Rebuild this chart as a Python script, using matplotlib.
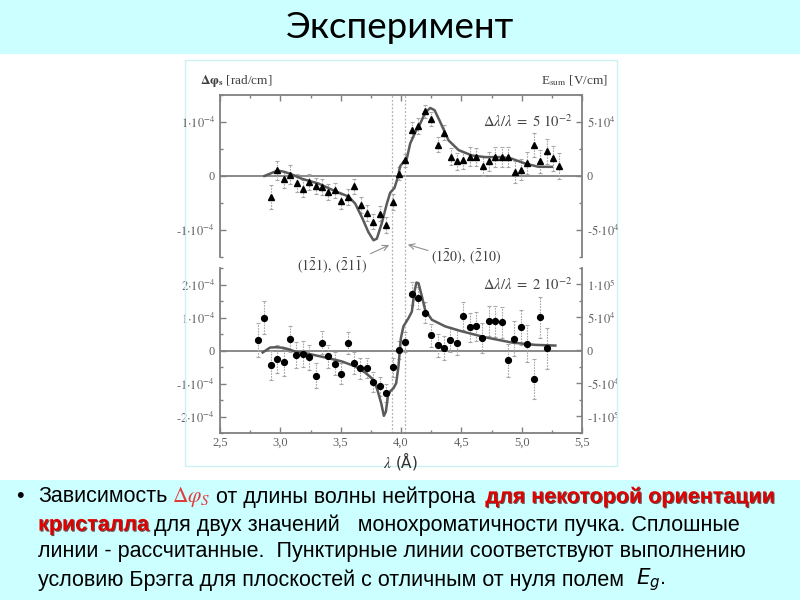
import numpy as np
import matplotlib
matplotlib.use("Agg")
import matplotlib.pyplot as plt
import matplotlib.patheffects as pe
from matplotlib.ticker import MultipleLocator, FixedLocator, FixedFormatter

plt.rcParams['mathtext.fontset'] = 'stix'

# --- data (dphi in units of 1e-4 rad/cm) ---
lam_a = [2.923, 2.976, 3.028, 3.083, 3.136, 3.188, 3.241, 3.294, 3.346, 3.399,
         3.454, 3.506, 3.559, 3.614, 3.667, 3.719, 3.772, 3.824, 3.877, 3.932,
         3.985, 4.037, 4.093, 4.145, 4.198, 4.250, 4.303, 4.355, 4.411, 4.463,
         4.516, 4.568, 4.621, 4.676, 4.728, 4.781, 4.834, 4.886, 4.941, 4.994,
         5.047, 5.099, 5.154, 5.207, 5.259, 5.312]
dphi_a = [-0.39, 0.105, -0.06, 0.025, -0.13, -0.235, -0.11, -0.19, -0.20, -0.30,
          -0.265, -0.47, -0.39, -0.19, -0.53, -0.685, -0.85, -0.70, -0.90, -0.48,
          0.04, 0.29, 0.86, 0.92, 1.20, 1.06, 0.58, 0.80, 0.36, 0.27,
          0.29, 0.36, 0.35, 0.18, 0.27, 0.35, 0.35, 0.35, 0.07, 0.12,
          0.24, 0.57, 0.27, 0.46, 0.33, 0.18]
err_a = [0.22, 0.18, 0.16, 0.18, 0.16, 0.16, 0.15, 0.15, 0.15, 0.15,
         0.14, 0.14, 0.15, 0.14, 0.15, 0.14, 0.14, 0.14, 0.15, 0.15,
         0.12, 0.12, 0.14, 0.15, 0.12, 0.13, 0.14, 0.14, 0.15, 0.16,
         0.16, 0.17, 0.17, 0.18, 0.18, 0.19, 0.19, 0.19, 0.20, 0.20,
         0.21, 0.22, 0.22, 0.23, 0.23, 0.24]
curve_a_x = [2.868, 2.976, 3.028, 3.083, 3.177, 3.316, 3.454, 3.565, 3.62, 3.675,
             3.73, 3.772, 3.80, 3.84, 3.883, 3.91, 3.946, 3.974, 3.993, 4.02,
             4.048, 4.076, 4.118, 4.159, 4.20, 4.242, 4.278, 4.325, 4.394, 4.477,
             4.588, 4.698, 4.836, 4.919, 5.03, 5.14, 5.25]
curve_a_y = [0.0, 0.10, 0.08, 0.04, -0.05, -0.14, -0.28, -0.38, -0.51, -0.76,
             -1.04, -1.19, -1.16, -0.88, -0.51, -0.31, -0.22, -0.02, 0.18, 0.26,
             0.32, 0.60, 0.81, 0.97, 1.17, 1.26, 1.22, 1.00, 0.66, 0.48,
             0.38, 0.35, 0.35, 0.32, 0.23, 0.17, 0.17]

lam_b = [2.812, 2.868, 2.920, 2.973, 3.028, 3.081, 3.133, 3.186, 3.238, 3.294,
         3.346, 3.399, 3.451, 3.506, 3.559, 3.611, 3.664, 3.717, 3.769, 3.824,
         3.877, 3.930, 3.982, 4.035, 4.090, 4.142, 4.195, 4.248, 4.303, 4.355,
         4.408, 4.461, 4.513, 4.568, 4.621, 4.673, 4.726, 4.781, 4.834, 4.886,
         4.939, 4.991, 5.047, 5.099, 5.152, 5.207]
dphi_b = [0.32, 1.00, -0.45, -0.25, -0.36, 0.34, -0.14, -0.10, -0.21, -0.76,
          0.24, -0.18, -0.40, -0.70, 0.22, -0.38, -0.54, -0.54, -0.95, -1.09,
          -1.29, -0.51, 0.02, 0.26, 1.72, 1.58, 1.15, 0.46, 0.16, 0.08,
          0.32, 0.23, 1.05, 0.70, 0.73, 0.38, 0.90, 0.88, 0.85, -0.30,
          0.36, 0.70, 0.20, -0.87, 1.01, 0.07]
err_b = [0.52, 0.50, 0.45, 0.43, 0.42, 0.40, 0.40, 0.40, 0.38, 0.38,
         0.36, 0.35, 0.35, 0.33, 0.33, 0.33, 0.32, 0.30, 0.30, 0.30,
         0.28, 0.28, 0.28, 0.30, 0.35, 0.33, 0.33, 0.35, 0.35, 0.36,
         0.38, 0.38, 0.42, 0.43, 0.43, 0.45, 0.46, 0.47, 0.48, 0.50,
         0.52, 0.54, 0.56, 0.60, 0.62, 0.62]
curve_b_x = [2.854, 2.915, 2.97, 3.025, 3.067, 3.122, 3.233, 3.371, 3.509, 3.62,
             3.703, 3.758, 3.80, 3.836, 3.858, 3.875, 3.891, 3.91, 3.938, 3.96,
             3.979, 3.999, 4.02, 4.062, 4.09, 4.112, 4.128, 4.145, 4.173, 4.20,
             4.256, 4.367, 4.505, 4.698, 4.92, 5.114, 5.279]
curve_b_y = [-0.06, 0.09, 0.10, 0.08, 0.04, -0.03, -0.10, -0.21, -0.33, -0.48,
             -0.67, -0.84, -1.14, -1.60, -1.98, -1.85, -1.39, -1.24, -1.14, -0.99,
             -0.48, 0.37, 0.73, 0.98, 1.18, 1.79, 2.06, 2.04, 1.64, 1.23,
             0.93, 0.73, 0.58, 0.40, 0.24, 0.17, 0.15]

bragg_lines = [3.925, 4.03]

cyan = '#ccffff'
gray = '#808080'
tick_gray = '#606060'

fig = plt.figure(figsize=(8, 6), dpi=100)
fig.patch.set_facecolor('white')

# slide bands
fig.patches.append(plt.Rectangle((0, 1 - 54 / 600), 1, 54 / 600, transform=fig.transFigure,
                                 facecolor=cyan, edgecolor='none', zorder=0))
fig.patches.append(plt.Rectangle((0, 0), 1, 120 / 600, transform=fig.transFigure,
                                 facecolor=cyan, edgecolor='none', zorder=0))
# frame of the pasted picture
fig.patches.append(plt.Rectangle((185 / 800, 1 - 466 / 600), 432 / 800, 406 / 600,
                                 transform=fig.transFigure, facecolor='none',
                                 edgecolor='#ccf0f4', lw=1, zorder=0))

fig.text(0.5, 1 - 27 / 600, 'Эксперимент', ha='center', va='center',
         fontsize=26.5, family=['Lato', 'DejaVu Sans'], color='black')

ax1 = fig.add_axes([220 / 800, 1 - 257 / 600, 362 / 800, 162 / 600])
ax2 = fig.add_axes([220 / 800, 1 - 433 / 600, 362 / 800, 165 / 600])
ax1.set_zorder(3)
for a in (ax1, ax2):
    a.patch.set_visible(False)

serif = ['Liberation Serif', 'DejaVu Serif']


def style(ax, ylim, top):
    ax.set_xlim(2.5, 5.5)
    ax.set_ylim(*ylim)
    for s in ax.spines.values():
        s.set_color(gray)
        s.set_linewidth(1.3)
    if top:
        ax.spines['bottom'].set_visible(False)
    else:
        ax.spines['top'].set_visible(False)
    ax.axhline(0, color=gray, lw=1.3, zorder=1)
    ax.xaxis.set_major_locator(MultipleLocator(0.5))
    ax.xaxis.set_minor_locator(MultipleLocator(0.25))
    ax.yaxis.set_minor_locator(MultipleLocator(0.5))
    ax.tick_params(which='both', direction='in', colors=gray, labelcolor=tick_gray,
                   labelsize=9, top=top, bottom=not top, labelbottom=not top,
                   right=False, left=True)
    ax.tick_params(which='major', length=4, width=1)
    ax.tick_params(which='minor', length=2.5, width=1)
    for v in bragg_lines:
        ax.axvline(v, ymin=-0.08 if top else 0, ymax=1, color='#b0b0b0', lw=0.9,
                   ls=(0, (1.5, 1.5)), clip_on=False, zorder=1)


style(ax1, (-1.5, 1.5), True)
style(ax2, (-2.5, 2.5), False)

ax1.yaxis.set_major_locator(FixedLocator([-1, 0, 1]))
ax1.yaxis.set_major_formatter(FixedFormatter([r'$\text{-}1{\cdot}10^{-4}$', '0', r'$1{\cdot}10^{-4}$']))
ax2.yaxis.set_major_locator(FixedLocator([-2, -1, 0, 1, 2]))
ax2.yaxis.set_major_formatter(FixedFormatter([r'$\text{-}2{\cdot}10^{-4}$', r'$\text{-}1{\cdot}10^{-4}$', '0',
                                              r'$1{\cdot}10^{-4}$', r'$2{\cdot}10^{-4}$']))
ax2.set_xticks([2.5, 3.0, 3.5, 4.0, 4.5, 5.0, 5.5])
ax2.set_xticklabels(['2,5', '3,0', '3,5', '4,0', '4,5', '5,0', '5,5'])
ax2.tick_params(axis='x', pad=3)

for ax in (ax1, ax2):
    for lab in ax.get_xticklabels() + ax.get_yticklabels():
        lab.set_family(serif)

# right axes (field)
for ax, ticks, labels in ((ax1, [-1, 0, 1], [r'$\text{-}5{\cdot}10^{4}$', '0', r'$5{\cdot}10^{4}$']),
                          (ax2, [-2, -1, 0, 1, 2], [r'$\text{-}1{\cdot}10^{5}$', r'$\text{-}5{\cdot}10^{4}$', '0',
                                                    r'$5{\cdot}10^{4}$', r'$1{\cdot}10^{5}$'])):
    r = ax.twinx()
    r.set_ylim(ax.get_ylim())
    r.patch.set_visible(False)
    for s in r.spines.values():
        s.set_visible(False)
    r.yaxis.set_major_locator(FixedLocator(ticks))
    r.yaxis.set_major_formatter(FixedFormatter(labels))
    r.yaxis.set_minor_locator(MultipleLocator(0.5))
    r.tick_params(which='both', direction='in', colors=gray, labelcolor=tick_gray, labelsize=9)
    r.tick_params(which='major', length=4, width=1)
    r.tick_params(which='minor', length=2.5, width=1)
    for lab in r.get_yticklabels():
        lab.set_family(serif)
    ax.tick_params(which='both', right=False)

# data
for ax, lx, ly, le, mk, ms, cx, cy in ((ax1, lam_a, dphi_a, err_a, '^', 4.5, curve_a_x, curve_a_y),
                                       (ax2, lam_b, dphi_b, err_b, 'o', 4.2, curve_b_x, curve_b_y)):
    eb = ax.errorbar(lx, ly, yerr=le, fmt='none', ecolor='#a8a8a8', elinewidth=0.8,
                     capsize=1.5, capthick=0.8, zorder=2)
    eb[2][0].set_linestyle((0, (1.5, 1)))
    ax.plot(cx, cy, color='#5a5a5a', lw=1.8, zorder=3)
    ax.plot(lx, ly, ls='none', marker=mk, ms=ms, color='black', zorder=4)

ax1.text(5.42, 1.0, r'$\Delta\lambda/\lambda\ =\ 5\ 10^{-2}$', ha='right', va='center',
         fontsize=10.5, color='#404040')
ax2.text(5.42, 1.99, r'$\Delta\lambda/\lambda\ =\ 2\ 10^{-2}$', ha='right', va='center',
         fontsize=10.5, color='#404040')

arrow = dict(arrowstyle='->', color='#909090', lw=0.8, shrinkA=0, shrinkB=0)
ax1.annotate(r'$(1\bar{2}1),\ (\bar{2}1\bar{1})$', xy=(3.902, -1.28), xytext=(3.432, -1.64),
             ha='center', va='center', fontsize=10, color='#404040',
             arrowprops=dict(arrow, relpos=(0.95, 0.9)), annotation_clip=False)
ax1.annotate(r'$(1\bar{2}0),\ (\bar{2}10)$', xy=(4.057, -1.27), xytext=(4.538, -1.50),
             ha='center', va='center', fontsize=10, color='#404040',
             arrowprops=dict(arrow, relpos=(0.0, 0.8)), annotation_clip=False)

fig.text(200 / 800, 1 - 81 / 600, r'$\mathbf{\Delta\varphi_s}$ [rad/cm]', ha='left', va='center',
         fontsize=9.5, color='#404040', family=serif)
fig.text(608 / 800, 1 - 81 / 600, r'E$_{\rm sum}$ [V/cm]', ha='right', va='center',
         fontsize=9.5, color='#404040', family=serif)
fig.text(400 / 800, 1 - 461 / 600, r'$\lambda$ (Å)', ha='center', va='center',
         fontsize=11, color='#303030')

# caption text with coloured parts
fig.canvas.draw()
renderer = fig.canvas.get_renderer()
body = ['Liberation Sans', 'DejaVu Sans']
fs = 15.5
red_fx = [pe.SimplePatchShadow(offset=(0.8, -0.8), shadow_rgbFace='#400000', alpha=0.7), pe.Normal()]


def put_line(pieces, x_px, y_px):
    x = x_px / 800
    for s, kw, gap in pieces:
        t = fig.text(x, 1 - y_px / 600, s, ha='left', va='center', fontsize=fs,
                     family=body, **kw)
        bb = t.get_window_extent(renderer)
        x = bb.x1 / 800 + gap / 800


fig.text(20 / 800, 1 - 497 / 600, '•', ha='center', va='center', fontsize=fs, family=body)
red = dict(color='#e00000', weight='bold', path_effects=red_fx)
put_line([('Зависимость', {}, 5),
          (r'$\Delta\varphi_S$', dict(color='#e03a3a'), 5),
          ('от длины волны нейтрона', {}, 10),
          ('для некоторой ориентации', red, 0)], 38, 497)
put_line([('кристалла', red, 5),
          ('для двух значений   монохроматичности пучка. Сплошные', {}, 0)], 38, 525)
put_line([('линии - рассчитанные.  Пунктирные линии соответствуют выполнению', {}, 0)], 38, 552)
put_line([('условию Брэгга для плоскостей с отличным от нуля полем', {}, 12),
          (r'$\mathit{E_g}$.', dict(math_fontfamily='dejavusans'), 0)], 38, 580)

fig.savefig('out.png', dpi=100)
